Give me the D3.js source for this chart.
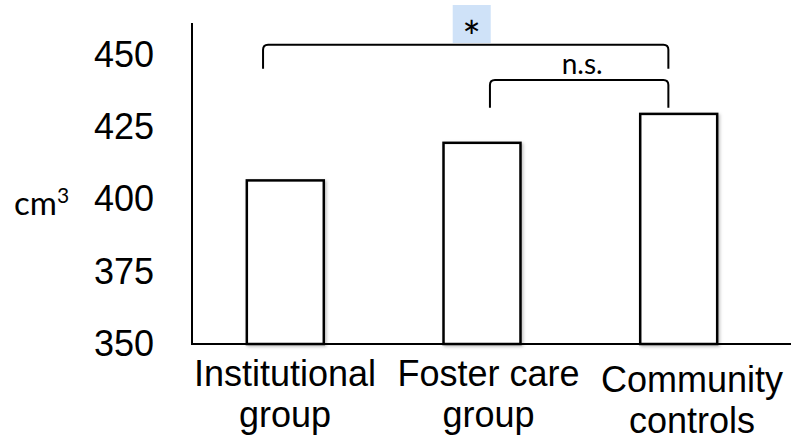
<!DOCTYPE html>
<html>
<head>
<meta charset="utf-8">
<script src="https://cdn.jsdelivr.net/npm/d3@7"></script>
<style>
  html, body { margin: 0; padding: 0; background: #fff; }
  svg { display: block; }
</style>
</head>
<body>
<svg id="chart" width="802" height="441"></svg>
<script>
// Group means of brain volume (cm³)
const categories = ["Institutional group", "Foster care group", "Community controls"];
const labelLines = [["Institutional", "group"], ["Foster care", "group"], ["Community", "controls"]];
const values = [407, 420, 430];
const yTicks = [350, 375, 400, 425, 450];

// Significance brackets between groups
const comparisons = [
  { from: "Institutional group", to: "Community controls", label: "*", top: 453.5, leg: 445.2 },
  { from: "Foster care group", to: "Community controls", label: "n.s.", top: 441.3, leg: 431.7 }
];

const svg = d3.select("#chart");

const y = d3.scaleLinear().domain([350, 461]).range([344, 23]);
const x = d3.scaleBand().domain(categories).range([190, 774])
  .paddingInner(0.596).paddingOuter(0.2825);
const labelX = d3.scalePoint().domain(categories).range([285, 692]);

// soft shadow under the bars
const defs = svg.append("defs");
const f = defs.append("filter").attr("id", "shadow")
  .attr("x", "-20%").attr("y", "-20%").attr("width", "140%").attr("height", "140%");
f.append("feDropShadow").attr("dx", 1.5).attr("dy", 1.5)
  .attr("stdDeviation", 1.5).attr("flood-color", "#000").attr("flood-opacity", 0.25);

// bars
svg.append("g").selectAll("rect").data(values).join("rect")
  .attr("x", (d, i) => x(categories[i]) + 1.25)
  .attr("y", d => y(d) + 1.25)
  .attr("width", x.bandwidth() - 2.5)
  .attr("height", d => y(350) - y(d) - 1.25)
  .attr("fill", "#fff")
  .attr("stroke", "#000")
  .attr("stroke-width", 2.5)
  .attr("filter", "url(#shadow)");

// axes
const yAxis = d3.axisLeft(y).tickValues(yTicks).tickSize(0).tickPadding(38);
const gy = svg.append("g").attr("transform", "translate(192,0)").call(yAxis);
gy.select(".domain").attr("stroke", "#000").attr("stroke-width", 2)
  .attr("d", `M0,${y(461)}V${y(350)}`);
gy.selectAll(".tick text")
  .attr("font-family", "'Liberation Sans', Arial, sans-serif")
  .attr("font-size", 36).attr("fill", "#000");

svg.append("line")
  .attr("x1", 191).attr("x2", 791)
  .attr("y1", y(350)).attr("y2", y(350))
  .attr("stroke", "#000").attr("stroke-width", 2);

// category labels
const lab = svg.append("g")
  .attr("font-family", "'Liberation Sans', Arial, sans-serif")
  .attr("font-size", 36).attr("fill", "#000").attr("text-anchor", "middle");
categories.forEach((c, i) => {
  const base = i === 2 ? 392 : 386;
  const t = lab.append("text").attr("x", labelX(c)).attr("y", base);
  labelLines[i].forEach((line, j) => {
    t.append("tspan").attr("x", labelX(c)).attr("dy", j === 0 ? 0 : 41).text(line);
  });
});

// unit label
const unit = svg.append("text")
  .attr("x", 14).attr("y", 215)
  .attr("font-family", "Lato, 'Open Sans', sans-serif")
  .attr("font-size", 33).attr("fill", "#000");
unit.append("tspan").text("cm");
unit.append("tspan").attr("dy", -12).attr("font-size", 21).text("3");

// brackets
const legFrac = { "Institutional group": 0.22, "Foster care group": 0.6, "Community controls": 0.37 };
const bx = c => x(c) + x.bandwidth() * legFrac[c];
const r = 5;
const gb = svg.append("g");
comparisons.forEach(cmp => {
  const x1 = bx(cmp.from), x2 = bx(cmp.to);
  const yt = y(cmp.top), yb = y(cmp.leg);
  gb.append("path")
    .attr("d", `M${x1},${yb}L${x1},${yt + r}Q${x1},${yt} ${x1 + r},${yt}` +
               `L${x2 - r},${yt}Q${x2},${yt} ${x2},${yt + r}L${x2},${yb}`)
    .attr("fill", "none").attr("stroke", "#000").attr("stroke-width", 2);
});

// "*" with highlight box
const big = comparisons[0];
const starX = (bx(big.from) + bx(big.to)) / 2 + 6;
svg.append("rect")
  .attr("x", starX - 19).attr("y", 5).attr("width", 38).attr("height", 38)
  .attr("fill", "#cfe2f8");
svg.append("text")
  .attr("x", starX).attr("y", 53)
  .attr("text-anchor", "middle")
  .attr("font-family", "Lato, 'Open Sans', sans-serif")
  .attr("font-size", 44).attr("fill", "#000")
  .text(big.label);

// "n.s."
const small = comparisons[1];
svg.append("text")
  .attr("x", (bx(small.from) + bx(small.to)) / 2 + 3).attr("y", 74)
  .attr("text-anchor", "middle")
  .attr("font-family", "Lato, 'Open Sans', sans-serif")
  .attr("font-size", 28).attr("fill", "#000")
  .text(small.label);
</script>
</body>
</html>
